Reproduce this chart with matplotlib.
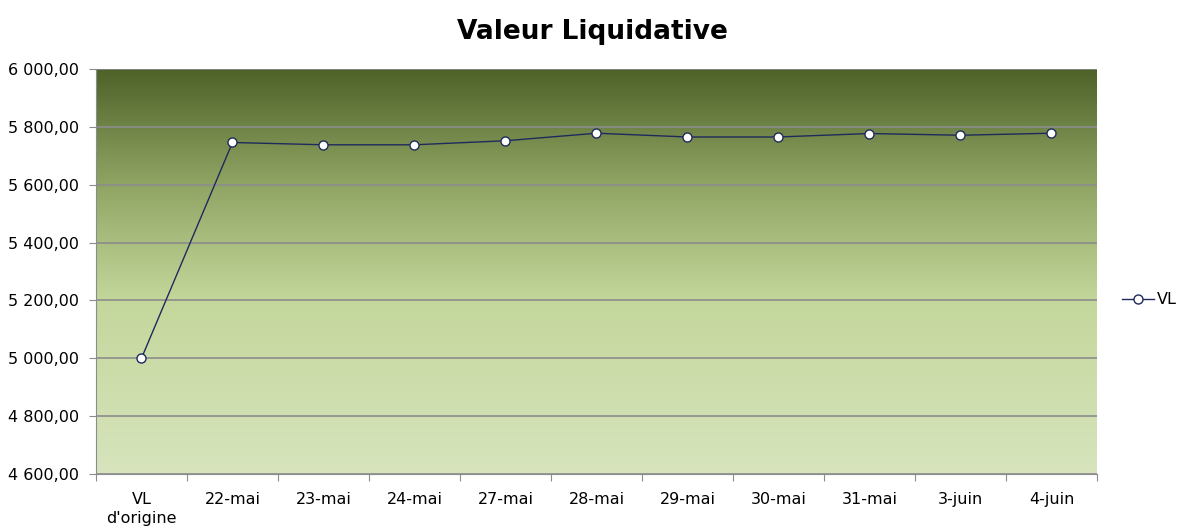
import numpy as np
import matplotlib.pyplot as plt
from matplotlib.colors import LinearSegmentedColormap
from matplotlib.ticker import FuncFormatter

plt.rcParams["font.family"] = ["DejaVu Sans"]

categories = ["VL\nd'origine", "22-mai", "23-mai", "24-mai", "27-mai", "28-mai",
              "29-mai", "30-mai", "31-mai", "3-juin", "4-juin"]
vl_values = [5000, 5746, 5738, 5738, 5752, 5778, 5765, 5765, 5777, 5771, 5778]
y_ticks = [4600, 4800, 5000, 5200, 5400, 5600, 5800, 6000]

fig = plt.figure(figsize=(11.85, 5.3), dpi=100)
ax = fig.add_axes([0.081, 0.1057, 0.8447, 0.7641])

# background gradient (dark green at top -> pale green at bottom)
cmap = LinearSegmentedColormap.from_list(
    "bg", [(0.0, "#d7e4bd"), (0.43, "#c4d79b"), (0.72, "#8fa463"), (1.0, "#4e6229")])
grad = np.linspace(0, 1, 256).reshape(-1, 1)
ax.imshow(grad, aspect="auto", cmap=cmap, origin="lower",
          extent=[0, 1, 0, 1], transform=ax.transAxes, zorder=0)

x = np.arange(len(categories))
ax.plot(x, vl_values, color="#1f2a5c", lw=1, marker="o", ms=6.5,
        mfc="white", mec="#1f2a5c", mew=1, label="VL", zorder=3)

ax.set_xlim(-0.5, len(categories) - 0.5)
ax.set_ylim(4600, 6000)
ax.set_yticks(y_ticks)
ax.yaxis.set_major_formatter(FuncFormatter(
    lambda v, p: f"{v:,.2f}".replace(",", " ").replace(".", ",")))
ax.grid(axis="y", color="#8c8c8c", lw=1.2, zorder=1)

ax.set_xticks(np.arange(-0.5, len(categories), 1))
ax.set_xticklabels([])
ax.set_xticks(x, minor=True)
ax.set_xticklabels(categories, minor=True, fontsize=11.5, linespacing=1.3)
ax.tick_params(axis="x", which="minor", length=0, pad=13)
ax.tick_params(axis="x", which="major", length=5, color="#8c8c8c")
ax.tick_params(axis="y", length=5, color="#8c8c8c", labelsize=11.5, pad=7)

for side in ["top", "right"]:
    ax.spines[side].set_visible(False)
for side in ["left", "bottom"]:
    ax.spines[side].set_color("#8c8c8c")

fig.suptitle("Valeur Liquidative", fontsize=19, fontweight="bold", y=0.965)
fig.legend(loc="center left", bbox_to_anchor=(1122 / 1185, 1 - 300 / 530),
           frameon=False, fontsize=11.5, handlelength=2.0, handletextpad=0.2,
           borderaxespad=0.0, borderpad=0.0)

fig.savefig("out.png", dpi=100)
